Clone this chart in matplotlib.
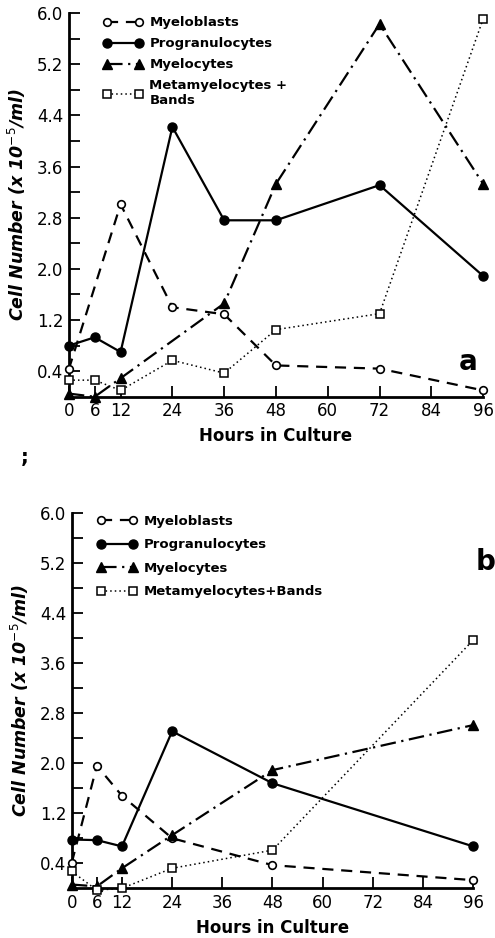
import matplotlib.pyplot as plt

# hours sampled in each experiment
hours_a = [0, 6, 12, 24, 36, 48, 72, 96]
hours_b = [0, 6, 12, 24, 48, 96]

# panel a values (x 10^-5 / ml)
myeloblasts_a_x = [0, 12, 24, 36, 48, 72, 96]
myeloblasts_a = [0.43, 3.01, 1.40, 1.29, 0.49, 0.44, 0.10]
progran_a = [0.80, 0.93, 0.70, 4.22, 2.76, 2.76, 3.31, 1.89]
myelocytes_a_x = [0, 6, 12, 36, 48, 72, 96]
myelocytes_a = [0.05, 0.0, 0.29, 1.46, 3.33, 5.83, 3.33]
metamy_a = [0.26, 0.26, 0.10, 0.57, 0.37, 1.05, 1.30, 5.91]

# panel b values
myeloblasts_b = [0.41, 1.96, 1.48, 0.80, 0.37, 0.13]
progran_b = [0.78, 0.77, 0.67, 2.51, 1.68, 0.67]
myelocytes_b = [0.06, 0.03, 0.32, 0.85, 1.89, 2.61]
metamy_b = [0.27, -0.03, 0.0, 0.32, 0.61, 3.97]

x_ticks = [0, 6, 12, 24, 36, 48, 60, 72, 84, 96]
y_major = [0.4, 1.2, 2.0, 2.8, 3.6, 4.4, 5.2, 6.0]
y_minor = [0.8, 1.6, 2.4, 3.2, 4.0, 4.8, 5.6]

plt.rcParams['font.family'] = ['Liberation Sans Narrow', 'DejaVu Sans']

fig = plt.figure(figsize=(4.95, 9.38), dpi=100)
ax_a = fig.add_axes([0.139, 0.577, 0.837, 0.409])
ax_b = fig.add_axes([0.145, 0.053, 0.811, 0.400])

dash_mb = (0, (5, 3.5))
dash_my = (0, (7, 2.5, 1, 2.5))


def draw(ax, xs, mb_x, mb, pg, my_x, my, mm, labels, leg_pos, spacing, letter, letter_pos):
    ax.plot(mb_x, mb, color='black', lw=1.6, ls=dash_mb, marker='o', ms=5.5,
            mfc='white', mew=1.2, clip_on=False, label=labels[0], zorder=3)
    ax.plot(xs, pg, color='black', lw=1.6, ls='-', marker='o', ms=6.5,
            clip_on=False, label=labels[1], zorder=3)
    ax.plot(my_x, my, color='black', lw=1.6, ls=dash_my, marker='^', ms=7.5,
            clip_on=False, label=labels[2], zorder=3)
    ax.plot(xs, mm, color='black', lw=1.1, ls=(0, (1, 2)), marker='s', ms=5.5,
            mfc='white', mew=1.1, clip_on=False, label=labels[3], zorder=3)

    ax.set_xlim(0, 96)
    ax.set_ylim(0, 6.0)
    ax.set_xticks(x_ticks)
    ax.set_yticks(y_major)
    ax.set_yticks(y_minor, minor=True)
    ax.set_yticklabels(['%.1f' % v for v in y_major])
    ax.tick_params(direction='in', length=8, width=1.3, labelsize=12, pad=4)
    ax.tick_params(which='minor', direction='in', length=8, width=1.3)
    for s in ['top', 'right']:
        ax.spines[s].set_visible(False)
    for s in ['left', 'bottom']:
        ax.spines[s].set_linewidth(2)

    ax.set_xlabel('Hours in Culture', family='DejaVu Sans', fontweight='heavy',
                  fontsize=12, labelpad=5)
    ax.set_ylabel('Cell Number (x 10$^{-5}$/ml)', family='DejaVu Sans',
                  fontweight='heavy', style='italic', fontsize=12.5, labelpad=6)

    ax.legend(loc='upper left', bbox_to_anchor=leg_pos, frameon=False,
              numpoints=2, handlelength=3.0, handletextpad=0.5,
              labelspacing=spacing, borderaxespad=0,
              prop={'family': 'DejaVu Sans', 'weight': 'heavy', 'size': 9.5})
    ax.text(letter_pos[0], letter_pos[1], letter, transform=ax.transAxes,
            family='DejaVu Sans', fontweight='heavy', fontsize=20,
            ha='center', va='center')


draw(ax_a, hours_a, myeloblasts_a_x, myeloblasts_a, progran_a,
     myelocytes_a_x, myelocytes_a, metamy_a,
     ['Myeloblasts', 'Progranulocytes', 'Myelocytes', 'Metamyelocytes +\nBands'],
     (0.07, 1.005), 0.6, 'a', (0.965, 0.09))
draw(ax_b, hours_b, hours_b, myeloblasts_b, progran_b,
     hours_b, myelocytes_b, metamy_b,
     ['Myeloblasts', 'Progranulocytes', 'Myelocytes', 'Metamyelocytes+Bands'],
     (0.05, 1.01), 0.8, 'b', (1.03, 0.87))

fig.text(0.05, 0.512, ';', fontsize=14, fontweight='bold', ha='center', va='center')

fig.savefig('out.png', dpi=100)
